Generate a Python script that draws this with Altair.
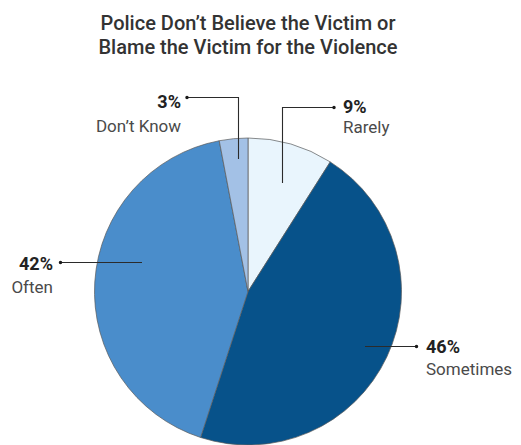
import altair as alt
import pandas as pd

# ---- data ----
categories = ["Rarely", "Sometimes", "Often", "Don\u2019t Know"]
values = [9, 46, 42, 3]
colors = ["#E9F5FD", "#07528A", "#4A8DCB", "#A3C1E6"]
title_lines = ["Police Don\u2019t Believe the Victim or",
               "Blame the Victim for the Violence"]

# ---- layout (page pixel coordinates) ----
W, H = 505, 437
M = 8
CX, CY, R = 248, 291.5, 153.5
FONT = "Roboto"

# leader polylines per category (outer end first, where the dot sits)
leaders = {
    "Rarely": [(334, 107.5), (282.5, 107.5), (282.5, 183)],
    "Sometimes": [(416.5, 346.5), (365, 346.5)],
    "Often": [(60.5, 262.5), (142, 262.5)],
    "Don\u2019t Know": [(187, 97.5), (238.5, 97.5), (238.5, 159)],
}
# label anchor x, pct baseline, name baseline, align
label_pos = {
    "Rarely": (343, 113, 133, "left"),
    "Sometimes": (426, 353, 375, "left"),
    "Often": (53, 270, 293, "right"),
    "Don\u2019t Know": (181, 108, 132, "right"),
}

pie_df = pd.DataFrame({"cat": categories, "value": values,
                       "idx": list(range(len(categories)))})

line_rows, dot_rows, text_rows = [], [], []
for c, v in zip(categories, values):
    pts = leaders[c]
    for i, (x, y) in enumerate(pts):
        line_rows.append({"cat": c, "seq": i, "x": x, "y": y})
    dot_rows.append({"cat": c, "x": pts[0][0], "y": pts[0][1]})
    lx, py, ny, al = label_pos[c]
    text_rows.append({"t": f"{v}%", "x": lx, "y": py, "align": al, "kind": "pct"})
    text_rows.append({"t": c, "x": lx, "y": ny, "align": al, "kind": "name"})

title_df = pd.DataFrame({"t": title_lines, "x": [248, 248], "y": [30, 54]})
line_df = pd.DataFrame(line_rows)
dot_df = pd.DataFrame(dot_rows)
text_df = pd.DataFrame(text_rows)

xs = alt.Scale(domain=[M, M + W], nice=False, zero=False)
ys = alt.Scale(domain=[M, M + H], nice=False, zero=False, reverse=True)
X = lambda: alt.X("x:Q", scale=xs, axis=None)
Y = lambda: alt.Y("y:Q", scale=ys, axis=None)

pie = alt.Chart(pie_df).mark_arc(radius=R, stroke="#5a5a5a", strokeWidth=0.7).encode(
    theta=alt.Theta("value:Q", stack=True),
    order=alt.Order("idx:Q"),
    color=alt.Color("cat:N", scale=alt.Scale(domain=categories, range=colors), legend=None),
    x=alt.value(CX - M),
    y=alt.value(CY - M),
)

lines = alt.Chart(line_df).mark_line(color="#2b2b2b", strokeWidth=1.1).encode(
    x=X(), y=Y(), detail="cat:N", order="seq:Q"
)
dots = alt.Chart(dot_df).mark_circle(color="#1a1a1a", size=12, opacity=1).encode(x=X(), y=Y())

def text_layer(kind, align, weight, size, color):
    return alt.Chart(text_df).transform_filter(
        (alt.datum.kind == kind) & (alt.datum.align == align)
    ).mark_text(align=align, baseline="alphabetic", font=FONT, fontSize=size,
                fontWeight=weight, color=color).encode(x=X(), y=Y(), text="t:N")

texts = [
    text_layer("pct", "left", "bold", 18, "#222222"),
    text_layer("pct", "right", "bold", 18, "#222222"),
    text_layer("name", "left", "normal", 17, "#4a4a4a"),
    text_layer("name", "right", "normal", 17, "#4a4a4a"),
]

title = alt.Chart(title_df).mark_text(align="center", baseline="alphabetic", font=FONT,
                                      fontSize=20, fontWeight=500, color="#333333").encode(
    x=X(), y=Y(), text="t:N")

chart = alt.layer(pie, lines, dots, *texts, title).properties(
    width=W, height=H, padding=0, autosize=alt.AutoSizeParams(type="none")
).configure_view(stroke=None)

chart.save("out.html", embed_options={"renderer": "svg", "actions": False})
